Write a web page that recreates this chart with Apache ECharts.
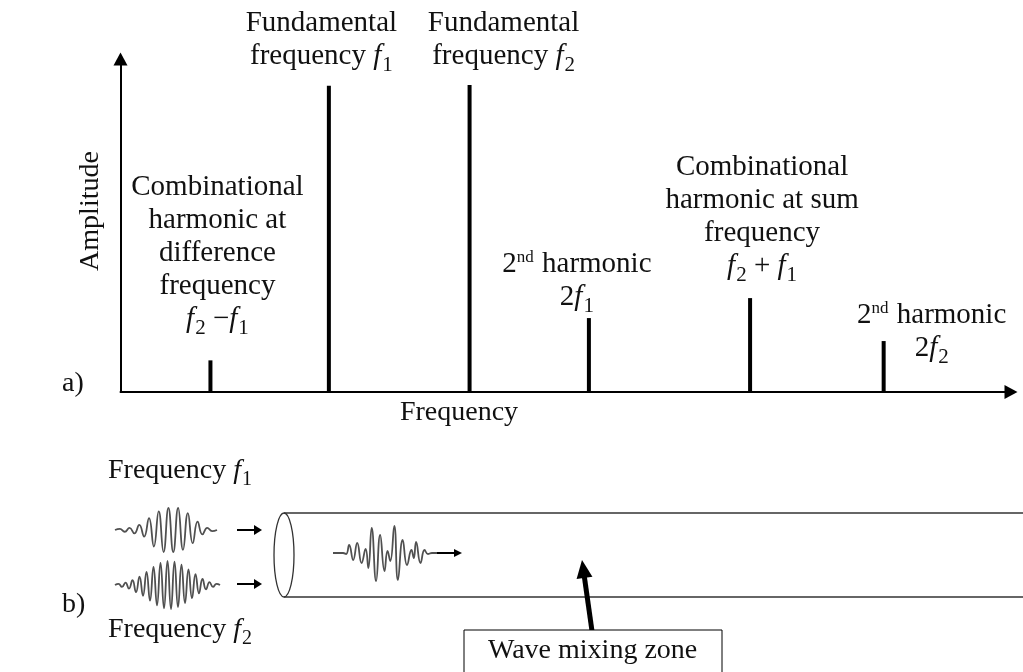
<!DOCTYPE html>
<html>
<head>
<meta charset="utf-8">
<script src="https://cdn.jsdelivr.net/npm/echarts@6/dist/echarts.min.js"></script>
<style>
  html, body { margin: 0; padding: 0; background: #fff; }
  #chart { width: 1023px; height: 672px; }
</style>
</head>
<body>
<div id="chart"></div>
<script>
// Spectrum of two mixed tones: fundamentals, 2nd harmonics and combination tones
const peakNames = ['f2 − f1', 'f1', 'f2', '2f1', 'f2 + f1', '2f2'];
const frequencies = [10.1, 23.4, 39.2, 52.6, 70.7, 85.7];
const amplitudes = [9.5, 92.0, 92.2, 22.2, 28.2, 15.3];
const peakLabels = [
  'Combinational\nharmonic at\ndifference\nfrequency\n{i|f}{s|2}{n| −}{i|f}{s|1}',
  'Fundamental\nfrequency {i|f}{s|1}',
  'Fundamental\nfrequency {i|f}{s|2}',
  '2{p|nd} harmonic\n2{i|f}{s|1}',
  'Combinational\nharmonic at sum\nfrequency\n{i|f}{s|2}{n| + }{i|f}{s|1}',
  '2{p|nd} harmonic\n2{i|f}{s|2}'
];

// Incoming wave packets (successive extrema, relative amplitude)
const packetF1 = [0, 0.05, -0.08, 0.1, -0.15, 0.23, -0.3, 0.54, -0.75, 0.85, -1, 1, -1, 1, -0.9, 0.77, -0.6, 0.38, -0.2, 0.1, -0.05, 0];
const packetF2 = [0, 0.05, -0.08, 0.1, -0.15, 0.2, -0.3, 0.35, -0.45, 0.55, -0.65, 0.75, -0.85, 0.92, -0.97, 1, -1, 0.97, -0.92, 0.85, -0.75, 0.65, -0.55, 0.45, -0.35, 0.25, -0.18, 0.12, -0.08, 0.05, 0];
// Mixed packet inside the tube: [time, amplitude]
const packetMixed = [
  [0, 0], [10, 0], [13, -1], [16, 8], [20, -7], [24, 10], [28.3, -10], [32.3, 4], [35, -15],
  [38.3, 25], [42.7, -28], [46.7, 18], [51, -18], [54, 2], [56.7, -8], [60.7, 27], [64.3, -27],
  [69, 13], [73.3, -12], [77.7, 3], [80, -5], [82.3, 11], [86.7, -10], [90.7, 3], [94, -1], [98, 0], [103, 0]
];

const INK = '#111';
const FONT = '"Liberation Serif", "Times New Roman", serif';
const FS = 29;
const LH = 33;

// label placement for each spectral line: horizontal shift and gap above the line top
const labelPlacement = [
  { dx: 7, gap: 24.5 },
  { dx: -7.5, gap: 12.8 },
  { dx: 34, gap: 12.3 },
  { dx: -12, gap: 4.5 },
  { dx: 12, gap: 15.5 },
  { dx: 48, gap: -23.5 }
];

const makeRich = (size) => ({
  n: { fontFamily: FONT, fontSize: size, color: INK, lineHeight: LH },
  i: { fontFamily: FONT, fontSize: size, fontStyle: 'italic', color: INK, lineHeight: LH },
  s: { fontFamily: FONT, fontSize: Math.round(size * 0.72), color: INK, lineHeight: LH, padding: [18, 0, 0, 1] },
  p: { fontFamily: FONT, fontSize: 17, color: INK, lineHeight: LH, padding: [0, 1, 14, 0] }
});
const rich = makeRich(FS);
const richSmall = makeRich(28);

const peakData = frequencies.map((f, k) => ({
  name: peakNames[k],
  value: [f, amplitudes[k]],
  label: {
    formatter: peakLabels[k],
    offset: [labelPlacement[k].dx, 0],
    distance: labelPlacement[k].gap
  }
}));

const hiddenAxis = (gridIndex, min, max) => ({
  type: 'value', gridIndex, min, max, show: false,
  axisLine: { show: false }, axisTick: { show: false }, axisLabel: { show: false }, splitLine: { show: false }
});

const packetLine = (idx, data) => ({
  type: 'line', xAxisIndex: idx, yAxisIndex: idx, data,
  smooth: 0.5, showSymbol: false, silent: true,
  lineStyle: { color: '#505050', width: 1.8 }
});

const arrow = (x1, y1, x2, y2, head, halfW, width) => {
  const dx = x2 - x1, dy = y2 - y1, len = Math.hypot(dx, dy);
  const ux = dx / len, uy = dy / len;
  const bx = x2 - ux * head, by = y2 - uy * head;
  return [
    { type: 'line', shape: { x1, y1, x2: bx + ux, y2: by + uy }, style: { stroke: '#000', lineWidth: width } },
    { type: 'polygon', shape: { points: [[x2, y2], [bx - uy * halfW, by + ux * halfW], [bx + uy * halfW, by - ux * halfW]] }, style: { fill: '#000' } }
  ];
};

const text = (str, x, y, extra, rotation) => ({
  type: 'text',
  x, y, rotation: rotation || 0,
  style: Object.assign({ text: str, x: 0, y: 0, fontFamily: FONT, fontSize: 28, fill: INK, rich: richSmall, lineHeight: LH }, extra)
});

const option = {
  animation: false,
  backgroundColor: '#fff',
  grid: [
    { left: 120.5, right: 12, top: 59, bottom: 280 },
    { left: 115, width: 102, top: 508, height: 44 },
    { left: 115, width: 105, top: 561, height: 48 },
    { left: 333, width: 104, top: 525, height: 56 }
  ],
  xAxis: [
    {
      type: 'value', gridIndex: 0, min: 0, max: 100,
      axisLine: { show: true, onZero: true, lineStyle: { color: '#000', width: 2 }, symbol: ['none', 'triangle'], symbolSize: [14, 13] },
      axisTick: { show: false }, axisLabel: { show: false }, splitLine: { show: false }
    },
    hiddenAxis(1, 0, packetF1.length - 1),
    hiddenAxis(2, 0, packetF2.length - 1),
    hiddenAxis(3, 0, 103)
  ],
  yAxis: [
    {
      type: 'value', gridIndex: 0, min: 0, max: 100,
      axisLine: { show: true, lineStyle: { color: '#000', width: 2 }, symbol: ['none', 'triangle'], symbolSize: [14, 13] },
      axisTick: { show: false }, axisLabel: { show: false }, splitLine: { show: false }
    },
    hiddenAxis(1, -1, 1),
    hiddenAxis(2, -1, 1),
    hiddenAxis(3, -28, 28)
  ],
  series: [
    {
      type: 'bar', xAxisIndex: 0, yAxisIndex: 0, barWidth: 4,
      itemStyle: { color: '#000' },
      label: {
        show: true, position: 'top', align: 'center',
        fontFamily: FONT, fontSize: FS, color: INK, lineHeight: LH, rich
      },
      data: peakData
    },
    packetLine(1, packetF1.map((v, k) => [k, v])),
    packetLine(2, packetF2.map((v, k) => [k, v])),
    packetLine(3, packetMixed)
  ],
  graphic: [
    text('Amplitude', 91, 211, { align: 'center', verticalAlign: 'middle' }, Math.PI / 2),
    text('Frequency', 459, 413, { align: 'center', verticalAlign: 'middle' }),
    text('a)', 62, 384, { align: 'left', verticalAlign: 'middle' }),
    text('b)', 62, 605, { align: 'left', verticalAlign: 'middle' }),
    text('Frequency {i|f}{s|1}', 108, 470.5, { align: 'left', verticalAlign: 'middle' }),
    text('Frequency {i|f}{s|2}', 108, 629.5, { align: 'left', verticalAlign: 'middle' }),
    ...arrow(237, 530, 262, 530, 8, 5, 2),
    ...arrow(237, 584, 262, 584, 8, 5, 2),
    { type: 'line', shape: { x1: 284, y1: 513, x2: 1023, y2: 513 }, style: { stroke: '#333', lineWidth: 1.3 } },
    { type: 'line', shape: { x1: 284, y1: 597, x2: 1023, y2: 597 }, style: { stroke: '#333', lineWidth: 1.3 } },
    { type: 'ellipse', shape: { cx: 284, cy: 555, rx: 10, ry: 42 }, style: { fill: 'none', stroke: '#333', lineWidth: 1.3 } },
    ...arrow(437, 553, 462, 553, 8, 4, 2),
    ...arrow(592, 631, 582, 560, 18, 8, 5),
    { type: 'rect', shape: { x: 464, y: 630, width: 258, height: 60 }, style: { fill: '#fff', stroke: '#000', lineWidth: 1 } },
    text('Wave mixing zone', 488, 650.5, { align: 'left', verticalAlign: 'middle' })
  ]
};

const chart = echarts.init(document.getElementById('chart'), null, { renderer: 'canvas' });
chart.setOption(option);
</script>
</body>
</html>
